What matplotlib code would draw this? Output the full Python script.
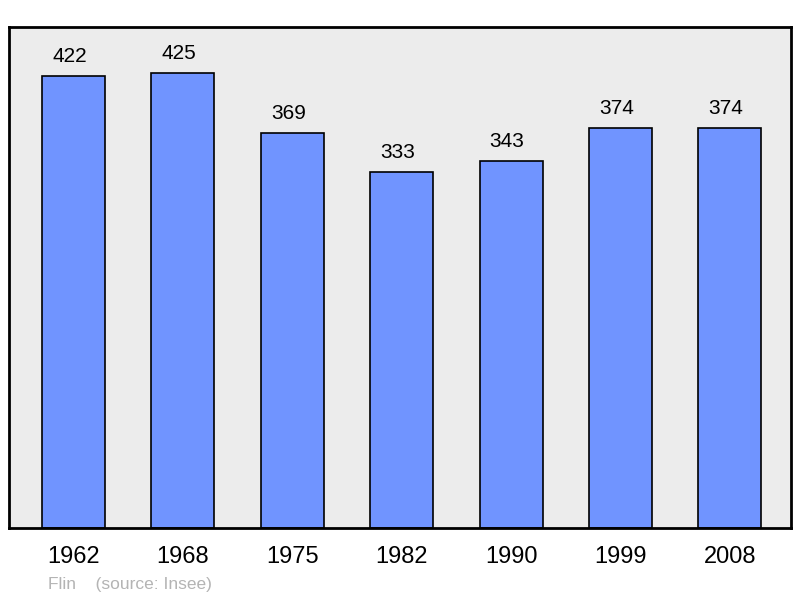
import numpy as np
import matplotlib.pyplot as plt

plt.rcParams['font.family'] = ['Liberation Sans', 'DejaVu Sans']

annees = ["1962", "1968", "1975", "1982", "1990", "1999", "2008"]
population = [422, 425, 369, 333, 343, 374, 374]

fig = plt.figure(figsize=(8, 5.98), dpi=100)
ax = fig.add_axes([9/800, 70/598, 782/800, 501/598])
ax.set_facecolor("#ececec")

x = np.arange(len(annees))
ax.bar(x, population, width=0.576, color="#7094ff", edgecolor="black", linewidth=1.2, zorder=2)
for xi, v in zip(x, population):
    ax.text(xi - 0.037, v + 18, str(v), ha="center", va="center", fontsize=15)

ax.set_xlim(-0.59, 6.56)
ax.set_ylim(0, 468)
ax.set_xticks(x)
ax.set_xticklabels(annees, fontsize=17)
ax.tick_params(axis="x", length=0, pad=13)
ax.set_yticks([])
for s in ax.spines.values():
    s.set_linewidth(2)

fig.text(48/800, 1 - 584/598, "Flin    (source: Insee)", color="#b4b4b4", fontsize=12.5, va="center")
fig.savefig("out.png", dpi=100)
